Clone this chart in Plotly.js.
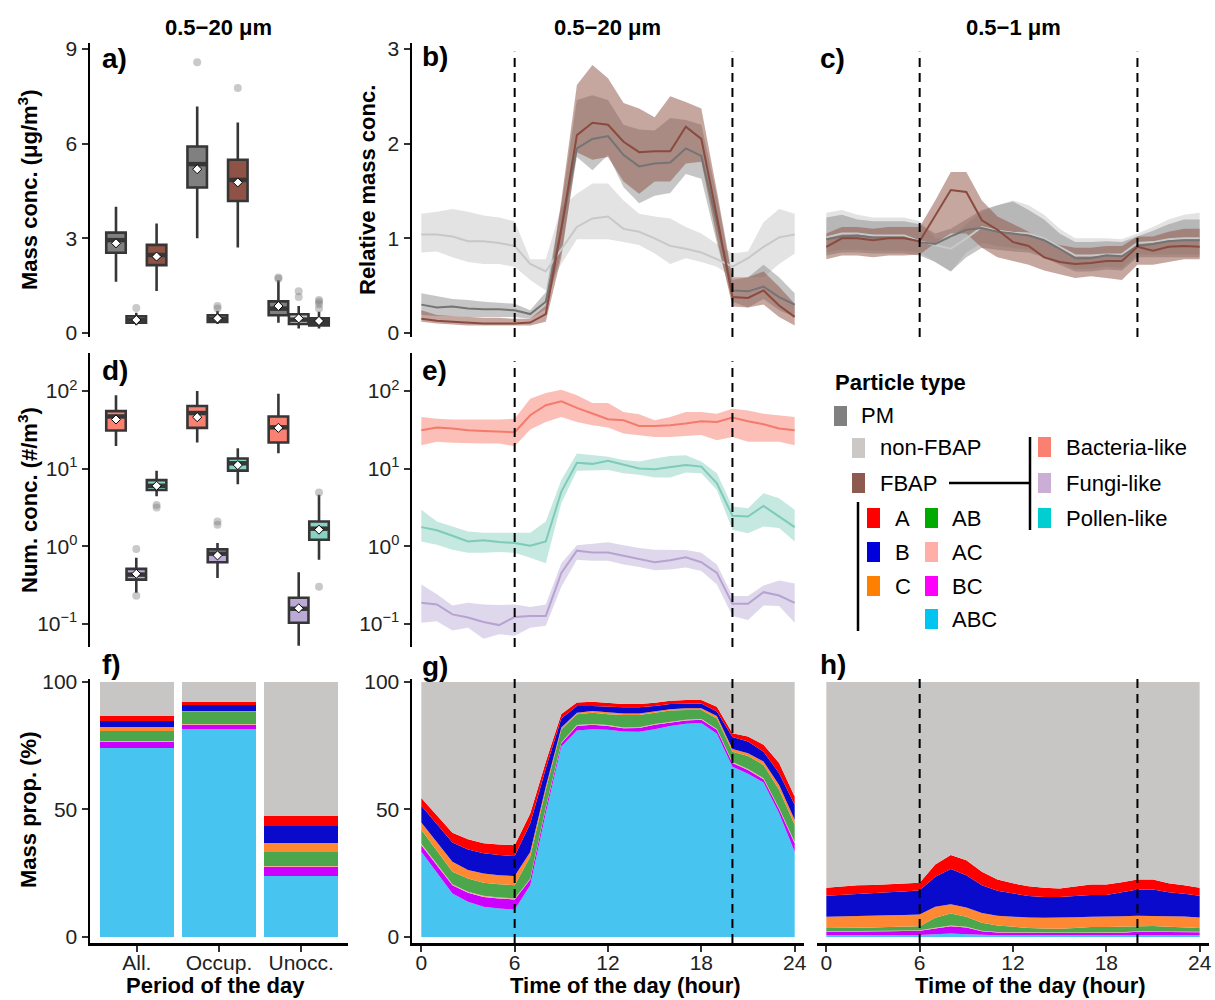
<!DOCTYPE html>
<html><head><meta charset="utf-8">
<script src="https://cdn.plot.ly/plotly-3.0.1.min.js"></script>
<style>body{margin:0;background:#fff}#chart{width:1215px;height:1000px}</style>
</head><body><div id="chart"></div>
<script>
const W = 1215, H = 1000;
const FONT = 'Liberation Sans, Arial, sans-serif';

// ---------- data ----------
const periods = ['All.', 'Occup.', 'Unocc.'];
const hours = [0,1,2,3,4,5,6,7,8,9,10,11,12,13,14,15,16,17,18,19,20,21,22,23,24];

// panel a: mass conc. [lowerfence, q1, median, q3, upperfence, mean] per period
const massPM      = [[1.62,2.54,2.94,3.18,4.00,2.84],[3.00,4.61,5.35,5.91,7.18,5.19],[0.32,0.56,0.77,1.00,1.67,0.85]];
const massNonFBAP = [[0.24,0.32,0.42,0.53,0.64,0.41],[0.28,0.35,0.45,0.56,0.70,0.46],[0.14,0.28,0.42,0.59,0.85,0.46]];
const massFBAP    = [[1.33,2.15,2.47,2.79,3.47,2.42],[2.71,4.18,4.85,5.49,6.67,4.77],[0.14,0.24,0.35,0.46,0.67,0.38]];
const massOutPM      = [[],[8.58],[1.76,1.72]];
const massOutNonFBAP = [[0.79],[0.85,0.77],[1.32,1.14]];
const massOutFBAP    = [[],[7.76],[1.04,0.99,0.91,0.77]];

// panel d: number conc.
const numBacteria = [[19.5,31,47,55,88,43],[21.7,33.5,52,64,100,46],[15.8,21.7,34,47,92,33.5]];
const numFungi    = [[0.25,0.37,0.43,0.51,0.71,0.44],[0.39,0.62,0.80,0.91,1.10,0.76],[0.052,0.103,0.156,0.216,0.46,0.158]];
const numPollen   = [[4.4,5.3,6.0,7.1,9.4,6.0],[6.3,9.4,11.7,13.5,18.3,11.1],[0.67,1.21,1.68,2.08,4.6,1.63]];
const numOutBacteria = [[],[],[]];
const numOutFungi    = [[0.92,0.23],[2.08,1.89],[]];
const numOutPollen   = [[3.4,3.15],[],[4.9,0.30]];

// panel b: relative mass conc. 0.5-20 um
const bNon    = [1.04,1.04,1.02,0.97,0.97,0.95,0.92,0.73,0.65,0.89,1.12,1.21,1.23,1.10,1.07,1.00,0.92,0.89,0.85,0.78,0.70,0.79,0.91,1.01,1.04];
const bNonHi  = [1.26,1.28,1.31,1.28,1.24,1.22,1.18,0.78,0.78,1.33,1.47,1.58,1.58,1.40,1.26,1.23,1.21,1.12,1.05,0.94,0.84,0.86,1.17,1.31,1.26];
const bNonLo  = [0.85,0.86,0.80,0.75,0.73,0.73,0.70,0.56,0.45,0.73,0.99,0.99,0.99,0.96,0.93,0.84,0.73,0.79,0.75,0.70,0.59,0.59,0.59,0.73,0.84];
const bPM     = [0.30,0.27,0.28,0.26,0.25,0.25,0.24,0.20,0.33,1.10,1.95,2.05,2.08,1.88,1.76,1.79,1.80,1.95,1.87,1.15,0.45,0.44,0.49,0.38,0.30];
const bPMHi   = [0.42,0.39,0.36,0.35,0.33,0.32,0.31,0.24,0.43,1.35,2.46,2.51,2.46,2.20,2.15,2.14,2.27,2.25,2.20,1.45,0.56,0.59,0.72,0.59,0.42];
const bPMLo   = [0.19,0.18,0.18,0.17,0.17,0.17,0.17,0.15,0.25,0.85,1.86,1.72,1.88,1.54,1.37,1.45,1.48,1.68,1.63,0.95,0.33,0.27,0.36,0.24,0.17];
const bFBAP   = [0.15,0.13,0.12,0.11,0.10,0.10,0.10,0.11,0.20,1.10,2.09,2.22,2.20,2.02,1.91,1.92,1.92,2.18,2.05,1.23,0.38,0.37,0.45,0.29,0.17];
const bFBAPHi = [0.24,0.19,0.18,0.17,0.16,0.16,0.15,0.15,0.29,1.40,2.62,2.83,2.69,2.43,2.37,2.28,2.50,2.44,2.37,1.50,0.59,0.59,0.65,0.49,0.31];
const bFBAPLo = [0.12,0.10,0.09,0.08,0.08,0.08,0.08,0.08,0.12,0.80,1.91,1.83,1.86,1.60,1.47,1.60,1.60,1.79,1.81,1.00,0.28,0.27,0.30,0.17,0.08];

// panel c: relative mass conc. 0.5-1 um
const cNon    = [1.01,1.05,1.05,1.03,1.03,1.03,0.97,0.93,0.89,1.00,1.12,1.08,1.06,1.05,1.00,0.91,0.82,0.82,0.83,0.83,0.95,0.96,0.99,1.00,1.00];
const cNonHi  = [1.27,1.30,1.25,1.22,1.22,1.22,1.18,1.00,1.00,1.15,1.28,1.35,1.40,1.35,1.25,1.10,1.00,1.00,1.00,0.99,1.05,1.12,1.20,1.25,1.27];
const cNonLo  = [0.85,0.88,0.88,0.87,0.87,0.87,0.85,0.75,0.65,0.85,0.95,0.92,0.90,0.88,0.82,0.75,0.68,0.68,0.70,0.69,0.83,0.83,0.83,0.83,0.83];
const cPM     = [0.99,1.02,1.03,1.01,1.01,1.01,0.96,0.94,1.02,1.09,1.11,1.07,1.05,1.03,0.98,0.89,0.79,0.79,0.82,0.81,0.92,0.94,0.97,0.98,0.98];
const cPMHi   = [1.22,1.25,1.20,1.18,1.18,1.18,1.15,1.05,1.10,1.20,1.30,1.35,1.39,1.30,1.20,1.05,0.96,0.96,0.97,0.96,1.02,1.08,1.15,1.20,1.20];
const cPMLo   = [0.82,0.85,0.85,0.84,0.84,0.84,0.82,0.75,0.65,0.80,0.90,0.88,0.86,0.85,0.80,0.72,0.65,0.65,0.67,0.66,0.80,0.80,0.80,0.80,0.80];
const cFBAP   = [0.91,1.00,1.00,0.98,1.00,1.00,0.97,1.24,1.51,1.49,1.19,1.09,0.96,0.92,0.80,0.75,0.73,0.74,0.76,0.76,0.91,0.87,0.91,0.92,0.91];
const cFBAPHi = [1.05,1.12,1.12,1.10,1.12,1.12,1.12,1.40,1.70,1.70,1.40,1.23,1.15,1.07,0.98,0.93,0.90,0.90,0.92,0.92,1.02,1.02,1.07,1.10,1.10];
const cFBAPLo = [0.78,0.82,0.82,0.80,0.82,0.82,0.83,0.95,1.05,1.05,0.90,0.80,0.76,0.72,0.66,0.62,0.58,0.60,0.58,0.56,0.72,0.72,0.75,0.78,0.78];

// panel e: number conc. per hour
const eBac    = [31.3,33.8,32.8,31.3,30.6,30.3,29.4,48.7,65.5,73.6,60.5,51.2,43.3,42.0,35.5,35.5,36.3,38.1,40.8,40.0,45.5,40.8,37.3,32.8,31.3];
const eBacHi  = [46.3,44.0,42.8,42.8,42.8,42.8,44.0,79.7,94.0,104,88.0,70.0,70.0,53.7,50.0,42.0,46.3,53.7,53.7,51.0,59.0,56.0,51.0,48.6,46.3];
const eBacLo  = [20.0,22.1,21.5,21.1,21.1,21.1,19.4,31.9,40.0,46.3,40.0,36.3,33.9,28.4,27.0,25.6,25.6,26.2,27.0,23.2,25.6,22.1,22.1,22.1,20.0];
const ePol    = [1.76,1.60,1.36,1.15,1.19,1.13,1.10,1.01,1.15,5.05,11.9,11.5,12.6,11.1,10.0,9.8,10.4,11.1,10.6,6.46,2.46,2.41,3.30,2.41,1.76];
const ePolHi  = [2.94,2.08,1.79,1.55,1.49,1.49,1.47,1.49,2.08,7.1,15.7,14.9,14.2,12.9,12.3,13.5,14.5,14.9,12.3,8.7,3.24,3.09,4.81,4.15,2.94];
const ePolLo  = [1.15,1.04,0.90,0.82,0.82,0.84,0.82,0.71,0.60,3.58,9.4,9.4,9.6,8.7,8.3,7.7,7.7,8.9,8.7,5.3,1.63,1.47,1.79,1.71,1.15];
const eFun    = [0.186,0.177,0.132,0.120,0.105,0.096,0.122,0.126,0.126,0.452,0.875,0.83,0.83,0.755,0.684,0.62,0.658,0.719,0.62,0.452,0.181,0.181,0.255,0.231,0.186];
const eFunHi  = [0.32,0.24,0.172,0.186,0.177,0.174,0.177,0.164,0.177,0.60,1.03,1.07,1.12,1.03,0.946,0.90,0.90,0.89,0.82,0.578,0.227,0.227,0.311,0.36,0.33];
const eFunLo  = [0.103,0.108,0.082,0.089,0.064,0.073,0.070,0.089,0.094,0.30,0.67,0.65,0.65,0.58,0.54,0.49,0.50,0.53,0.48,0.32,0.126,0.112,0.172,0.169,0.103];

// panel f: mass proportions (%) by period
const fABC = [74.3,81.7,23.9];
const fBC  = [2.0,1.5,3.6];
const fAC  = [0.4,0.4,0.4];
const fAB  = [4.2,4.5,5.5];
const fC   = [1.3,0.6,3.6];
const fB   = [2.7,2.3,6.6];
const fA   = [1.9,1.3,4.0];
const fNon = [13.2,7.7,52.4];

// panel g: mass proportions (%) per hour, 0.5-20 um
const gABC = [33.4,25.2,17.0,13.8,11.8,11.1,10.7,20.3,48.5,74.7,81.0,81.5,81.3,80.6,80.5,81.5,82.8,83.6,83.9,79.7,66.8,64.0,60.6,48.5,33.4];
const gBC  = [2.6,3.0,3.3,3.5,3.9,4.0,4.0,2.2,2.0,1.3,1.8,1.7,1.5,1.3,1.5,1.7,1.3,1.3,1.3,1.6,1.4,1.5,1.3,1.6,3.3];
const gAC  = [0.5,0.5,0.4,0.4,0.4,0.4,0.4,0.3,0.3,0.3,0.3,0.3,0.3,0.3,0.3,0.3,0.3,0.3,0.3,0.3,0.4,0.4,0.4,0.4,0.5];
const gAB  = [5.5,5.2,4.9,5.2,5.1,5.2,5.2,8.6,6.8,5.1,4.3,4.5,4.3,4.9,4.8,4.5,4.4,3.8,3.5,4.1,4.1,5.1,5.2,7.2,6.8];
const gC   = [2.9,3.2,3.9,3.3,3.7,3.5,3.6,1.9,1.3,0.8,0.6,0.6,0.8,0.6,0.6,0.6,0.5,0.7,0.7,1.0,1.0,1.1,1.3,1.9,2.0];
const gB   = [6.6,7.3,7.5,8.1,7.9,7.9,7.8,11.2,7.2,3.5,2.6,2.0,2.1,2.4,2.4,2.0,2.1,1.9,1.9,1.7,4.7,4.6,3.9,4.6,5.9];
const gA   = [3.0,3.1,3.9,4.0,3.9,4.2,4.3,3.9,2.6,1.8,1.4,1.7,1.6,1.3,1.3,1.3,1.3,1.4,1.4,1.9,1.5,1.9,2.7,4.0,3.2];
const gNon = [45.5,52.5,59.1,61.7,63.3,63.7,64.0,51.6,31.3,12.5,8.0,7.7,8.1,8.6,8.6,8.1,7.3,7.0,7.0,9.7,20.1,21.4,24.6,31.8,44.9];

// panel h: mass proportions (%) per hour, 0.5-1 um
const hABC = [0.7,0.7,0.7,0.7,0.7,0.7,0.7,1.0,1.3,1.0,0.7,0.6,0.6,0.6,0.6,0.6,0.6,0.6,0.6,0.6,0.7,0.7,0.7,0.7,0.7];
const hBC  = [1.3,1.3,1.4,1.4,1.5,1.6,1.7,2.3,2.9,2.7,1.5,1.1,1.0,0.9,0.9,0.9,0.9,0.9,0.9,1.0,1.3,1.3,1.2,1.2,1.1];
const hAC  = [0.2,0.2,0.2,0.2,0.2,0.2,0.2,0.3,0.3,0.3,0.2,0.2,0.2,0.2,0.2,0.2,0.2,0.2,0.2,0.2,0.2,0.2,0.2,0.2,0.2];
const hAB  = [1.3,1.3,1.4,1.4,1.5,1.5,1.6,3.9,4.7,3.9,3.1,2.6,2.1,1.8,1.6,1.5,1.8,2.2,2.2,2.3,2.1,2.1,1.9,1.7,1.5];
const hC   = [4.4,4.6,4.6,4.6,4.6,4.6,4.6,4.3,3.6,3.6,3.9,3.8,4.0,4.1,4.2,4.3,4.2,4.0,4.0,4.0,4.0,4.0,4.1,4.2,4.1];
const hB   = [8.2,8.4,8.6,8.8,9.0,9.2,9.5,11.8,13.8,12.7,10.9,9.8,9.1,8.4,8.2,8.2,8.3,8.5,8.5,9.4,10.3,10.3,9.4,8.9,8.5];
const hA   = [3.2,3.4,3.4,3.3,3.2,3.0,2.9,4.8,5.5,5.9,5.3,4.4,4.0,3.9,3.6,3.3,3.9,4.2,4.2,3.9,3.9,3.9,3.5,3.4,3.2];
const hNon = [80.7,80.1,79.7,79.6,79.3,79.2,78.8,71.6,67.9,69.9,74.4,77.5,79.0,80.1,80.7,81.0,80.1,79.4,79.4,78.6,77.5,77.5,79.0,79.7,80.7];

// ---------- styles ----------
const stackNames  = ['ABC','BC','AC','AB','C','B','A','non-FBAP'];
const stackColors = ['#48C4F0','#CC00FF','#F6ABA3','#4CA64C','#FF8833','#0A0ACC','#FF0000','#C8C6C4'];
const lineDark = '#363636';

// ---------- helpers ----------
const px = v => v / W;
const py = v => 1 - v / H;
const traces = [];
const BOXW = 0.24;

function boxes(stats, outs, offset, fill, xa, ya) {
  stats.forEach((s, i) => {
    traces.push({type:'box', x:[i + 1 + offset], lowerfence:[s[0]], q1:[s[1]], median:[s[2]], q3:[s[3]], upperfence:[s[4]],
      fillcolor: fill, line:{color: lineDark, width:2.6}, whiskerwidth:0, width: BOXW, boxpoints:false,
      xaxis: xa, yaxis: ya, showlegend:false, hoverinfo:'skip'});
  });
  // thick median bars (ggplot style)
  const mx = [], my = [];
  stats.forEach((s, i) => { const c = i + 1 + offset; mx.push(c - BOXW / 2 + 0.01, c + BOXW / 2 - 0.01, null); my.push(s[2], s[2], null); });
  traces.push({type:'scatter', mode:'lines', x: mx, y: my, line:{color: lineDark, width:4.5}, xaxis: xa, yaxis: ya,
    showlegend:false, hoverinfo:'skip', connectgaps:false});
  const ox = [], oy = [];
  outs.forEach((arr, i) => arr.forEach(v => { ox.push(i + 1 + offset); oy.push(v); }));
  traces.push({type:'scatter', mode:'markers', x: ox, y: oy, xaxis: xa, yaxis: ya, showlegend:false, hoverinfo:'skip',
    marker:{size:8, color:'rgba(120,120,120,0.4)'}});
}
function means(stats, offset, xa, ya) {
  traces.push({type:'scatter', mode:'markers', x: stats.map((s, i) => i + 1 + offset), y: stats.map(s => s[5]),
    xaxis: xa, yaxis: ya, showlegend:false, hoverinfo:'skip',
    marker:{symbol:'diamond', size:7, color:'#ffffff', line:{color:'#000', width:1}}});
}
function ribbon(hi, lo, color, xa, ya) {
  traces.push({type:'scatter', mode:'lines', x: hours.concat(hours.slice().reverse()), y: hi.concat(lo.slice().reverse()),
    fill:'toself', fillcolor: color, line:{width:0}, xaxis: xa, yaxis: ya, showlegend:false, hoverinfo:'skip'});
}
function line(y, color, xa, ya) {
  traces.push({type:'scatter', mode:'lines', x: hours, y: y, line:{color: color, width:2}, xaxis: xa, yaxis: ya, showlegend:false, hoverinfo:'skip'});
}
function stack(layers, group, xa, ya) {
  layers.forEach((arr, k) => traces.push({type:'scatter', mode:'lines', x: hours, y: arr, stackgroup: group,
    fillcolor: stackColors[k], line:{width:0, color: stackColors[k]}, xaxis: xa, yaxis: ya, showlegend:false, hoverinfo:'skip', name: stackNames[k]}));
}

// panel a
boxes(massPM, massOutPM, -0.25, '#808080', 'x', 'y');
boxes(massNonFBAP, massOutNonFBAP, 0, '#C8C8C8', 'x', 'y');
boxes(massFBAP, massOutFBAP, 0.25, '#8F5247', 'x', 'y');
means(massPM, -0.25, 'x', 'y'); means(massNonFBAP, 0, 'x', 'y'); means(massFBAP, 0.25, 'x', 'y');

// panel b
ribbon(bNonHi, bNonLo, 'rgba(200,200,200,0.5)', 'x2', 'y2');
ribbon(bPMHi, bPMLo, 'rgba(128,128,128,0.45)', 'x2', 'y2');
ribbon(bFBAPHi, bFBAPLo, 'rgba(140,80,66,0.5)', 'x2', 'y2');
line(bNon, '#C8C8C8', 'x2', 'y2'); line(bPM, '#747474', 'x2', 'y2'); line(bFBAP, '#8B4A3E', 'x2', 'y2');

// panel c
ribbon(cNonHi, cNonLo, 'rgba(200,200,200,0.5)', 'x3', 'y3');
ribbon(cPMHi, cPMLo, 'rgba(128,128,128,0.45)', 'x3', 'y3');
ribbon(cFBAPHi, cFBAPLo, 'rgba(140,80,66,0.5)', 'x3', 'y3');
line(cNon, '#C8C8C8', 'x3', 'y3'); line(cPM, '#747474', 'x3', 'y3'); line(cFBAP, '#8B4A3E', 'x3', 'y3');

// panel d
boxes(numBacteria, numOutBacteria, -0.25, '#FA8072', 'x4', 'y4');
boxes(numFungi, numOutFungi, 0, '#BBA9D6', 'x4', 'y4');
boxes(numPollen, numOutPollen, 0.25, '#86D3C3', 'x4', 'y4');
means(numBacteria, -0.25, 'x4', 'y4'); means(numFungi, 0, 'x4', 'y4'); means(numPollen, 0.25, 'x4', 'y4');

// panel e
ribbon(eBacHi, eBacLo, 'rgba(250,128,114,0.5)', 'x5', 'y5');
ribbon(ePolHi, ePolLo, 'rgba(126,205,187,0.45)', 'x5', 'y5');
ribbon(eFunHi, eFunLo, 'rgba(185,166,210,0.45)', 'x5', 'y5');
line(eBac, '#F27B6C', 'x5', 'y5'); line(ePol, '#7DCBB8', 'x5', 'y5'); line(eFun, '#B7A3D1', 'x5', 'y5');

// panel f
[fABC, fBC, fAC, fAB, fC, fB, fA, fNon].forEach((arr, k) => traces.push({type:'bar', x:[1,2,3], y: arr, width:0.9,
  marker:{color: stackColors[k], line:{width:0}}, xaxis:'x6', yaxis:'y6', showlegend:false, hoverinfo:'skip', name: stackNames[k]}));

// panel g, h
stack([gABC, gBC, gAC, gAB, gC, gB, gA, gNon], 'g', 'x7', 'y7');
stack([hABC, hBC, hAC, hAB, hC, hB, hA, hNon], 'h', 'x8', 'y8');

// ---------- axes ----------
const dA = [px(90), px(345)], dB = [px(412), px(804)], dC = [px(817), px(1209)];
const r1 = [py(337), py(43)], r2 = [py(647), py(353)], r3 = [py(943), py(679)];
const tickFont = {family: FONT, size: 21, color: '#222'};
const yBase = {showgrid:false, zeroline:false, showline:true, linecolor:'#000', linewidth:2.5, ticks:'outside', ticklen:6,
  tickwidth:2, tickcolor:'#333', tickfont: tickFont};
const xHidden = {visible:false, range:[-0.6, 24.6]};
const logTicks = {type:'log', range:[-1.3, 2.49], tickvals:[0.1,1,10,100],
  ticktext:['10<sup>−1</sup>','10<sup>0</sup>','10<sup>1</sup>','10<sup>2</sup>']};
const xTime = {showgrid:false, zeroline:false, showline:true, linecolor:'#000', linewidth:2.5, ticks:'outside', ticklen:6,
  tickwidth:2, tickcolor:'#333', tickfont: tickFont, ticklabelstandoff:-7, range:[-0.6, 24.6], tickvals:[0,6,12,18,24]};

const layout = {
  width: W, height: H, margin:{l:0, r:0, t:0, b:0}, paper_bgcolor:'#fff', plot_bgcolor:'rgba(0,0,0,0)',
  showlegend:false, boxmode:'overlay', barmode:'stack', font:{family: FONT},
  xaxis:  {domain: dA, anchor:'y', visible:false, range:[0.43, 3.57]},
  yaxis:  Object.assign({}, yBase, {domain: r1, anchor:'x', range:[-0.13, 9.19], tickvals:[0,3,6,9]}),
  xaxis2: Object.assign({}, xHidden, {domain: dB, anchor:'y2'}),
  yaxis2: Object.assign({}, yBase, {domain: r1, anchor:'x2', range:[-0.042, 3.063], tickvals:[0,1,2,3]}),
  xaxis3: Object.assign({}, xHidden, {domain: dC, anchor:'y3'}),
  yaxis3: {domain: r1, anchor:'x3', visible:false, range:[-0.042, 3.063]},
  xaxis4: {domain: dA, anchor:'y4', visible:false, range:[0.43, 3.57]},
  yaxis4: Object.assign({}, yBase, logTicks, {domain: r2, anchor:'x4'}),
  xaxis5: Object.assign({}, xHidden, {domain: dB, anchor:'y5'}),
  yaxis5: Object.assign({}, yBase, logTicks, {domain: r2, anchor:'x5'}),
  xaxis6: Object.assign({}, xTime, {domain:[px(90), px(348)], anchor:'y6', range:[0.43, 3.57], tickvals:[1,2,3], ticktext: periods}),
  yaxis6: Object.assign({}, yBase, {domain: r3, anchor:'x6', range:[-2.4, 101.2], tickvals:[0,50,100]}),
  xaxis7: Object.assign({}, xTime, {domain: dB, anchor:'y7'}),
  yaxis7: Object.assign({}, yBase, {domain: r3, anchor:'x7', range:[-2.4, 101.2], tickvals:[0,50,100]}),
  xaxis8: Object.assign({}, xTime, {domain: dC, anchor:'y8'}),
  yaxis8: {domain: r3, anchor:'x8', visible:false, range:[-2.4, 101.2]},
  shapes: [], annotations: []
};

// dashed reference lines at 6 h and 20 h
[['x2','y2',0.97],['x3','y3',0.97],['x5','y5',0.972],['x7','y7',1.0],['x8','y8',1.0]].forEach(([xa, ya, top]) => {
  [6, 20].forEach(h => layout.shapes.push({type:'line', xref: xa, yref: ya + ' domain', x0: h, x1: h, y0: 0, y1: top,
    line:{color:'#000', width:2, dash:'9px,6px'}}));
});

// text
function ann(text, x, y, size, opts) {
  layout.annotations.push(Object.assign({text: text, x: px(x), y: py(y), xref:'paper', yref:'paper', showarrow:false,
    font:{family: FONT, size: size, color:'#000'}, xanchor:'center', yanchor:'middle'}, opts || {}));
}
ann('<b>0.5−20 μm</b>', 218, 27, 22);
ann('<b>0.5−20 μm</b>', 607, 27, 22);
ann('<b>0.5−1 μm</b>', 1013, 27, 22);
ann('<b>a)</b>', 100, 58, 28, {xanchor:'left'});
ann('<b>b)</b>', 420, 56, 28, {xanchor:'left'});
ann('<b>c)</b>', 818, 58, 28, {xanchor:'left'});
ann('<b>d)</b>', 100, 370, 28, {xanchor:'left'});
ann('<b>e)</b>', 420, 370, 28, {xanchor:'left'});
ann('<b>f)</b>', 100, 664, 28, {xanchor:'left'});
ann('<b>g)</b>', 420, 666, 28, {xanchor:'left'});
ann('<b>h)</b>', 818, 664, 28, {xanchor:'left'});
ann('<b>Mass conc. (μg/m<sup>3</sup>)</b>', 28, 190, 22, {textangle:-90});
ann('<b>Relative mass conc.</b>', 368, 190, 22, {textangle:-90});
ann('<b>Num. conc. (#/m<sup>3</sup>)</b>', 28, 500, 22, {textangle:-90});
ann('<b>Mass prop. (%)</b>', 28, 810, 22, {textangle:-90});
ann('<b>Period of the day</b>', 215, 985, 22);
ann('<b>Time of the day (hour)</b>', 625, 985, 22);
ann('<b>Time of the day (hour)</b>', 1030, 985, 22);

// legend (drawn)
ann('<b>Particle type</b>', 833, 382, 22, {xanchor:'left'});
const legendItems = [
  ['PM', '#808080', 834, 416, 859],
  ['non-FBAP', '#CCC8C6', 852, 448, 878],
  ['FBAP', '#8C5A4E', 852, 483, 878],
  ['Bacteria-like', '#FA8072', 1038, 447, 1064],
  ['Fungi-like', '#CBAED6', 1038, 483, 1064],
  ['Pollen-like', '#00CED1', 1038, 518, 1064],
  ['A', '#FF0000', 867, 518, 893],
  ['B', '#0000DD', 867, 552, 893],
  ['C', '#FF8000', 867, 586, 893],
  ['AB', '#00AA00', 925, 518, 950],
  ['AC', '#FFAFA8', 925, 552, 950],
  ['BC', '#FF00FF', 925, 586, 950],
  ['ABC', '#00C5F0', 925, 619, 950]
];
legendItems.forEach(([label, color, x, y, tx]) => {
  layout.shapes.push({type:'rect', xref:'paper', yref:'paper', x0: px(x), x1: px(x + 13), y0: py(y - 10), y1: py(y + 10),
    fillcolor: color, line:{width:0}});
  ann(label, tx, y, 22, {xanchor:'left'});
});
[[949, 483, 1030, 483], [1030, 437, 1030, 530], [858, 502, 858, 631]].forEach(([x0, y0, x1, y1]) =>
  layout.shapes.push({type:'line', xref:'paper', yref:'paper', x0: px(x0), y0: py(y0), x1: px(x1), y1: py(y1),
    line:{color:'#000', width:2.5}}));

Plotly.newPlot('chart', traces, layout, {staticPlot:true, displayModeBar:false});
</script></body></html>
